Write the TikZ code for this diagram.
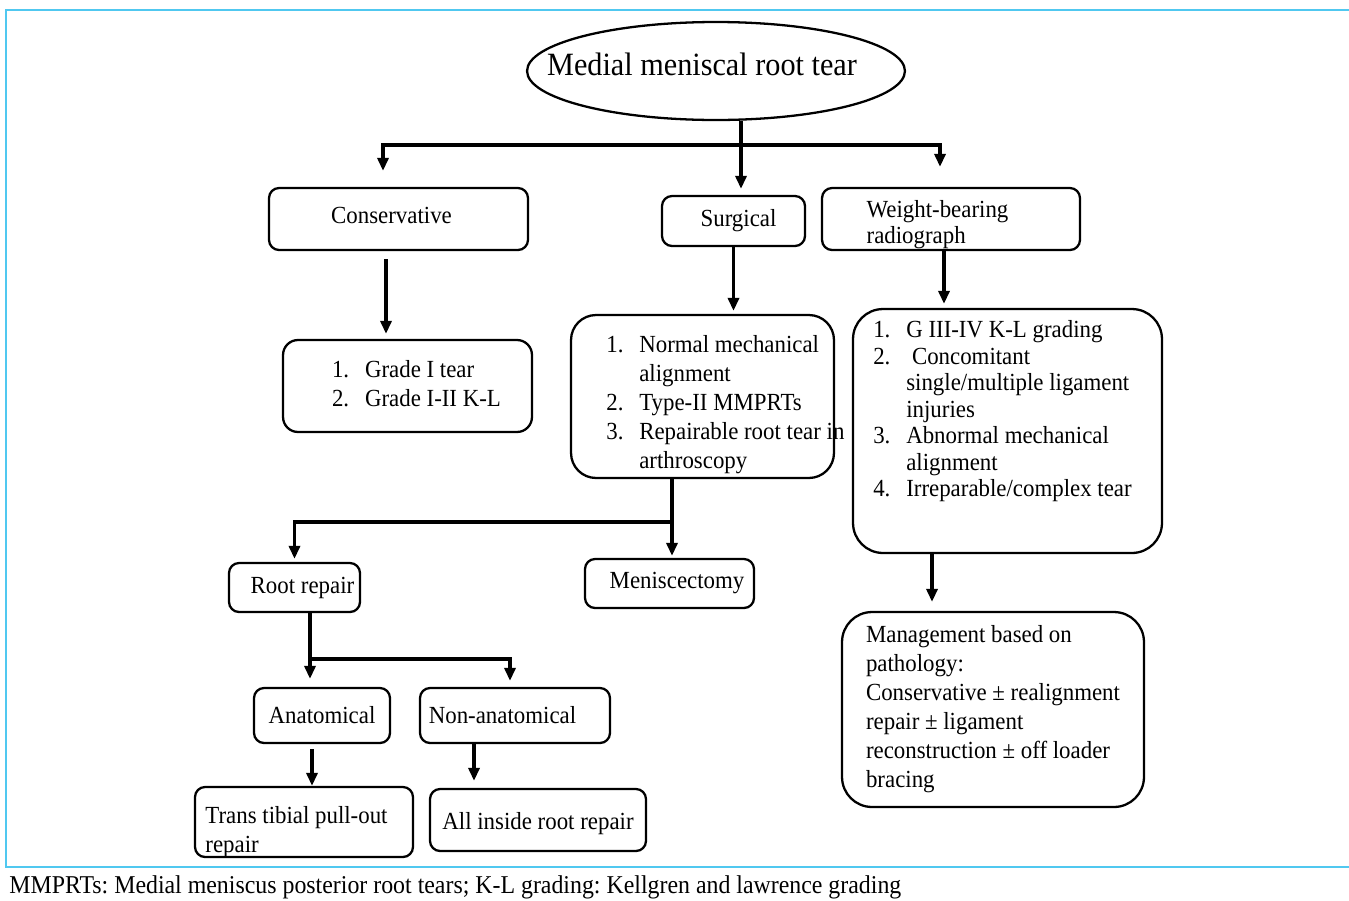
\documentclass[tikz,border=0pt]{standalone}
\usepackage{fontspec}
\setmainfont[FakeStretch=0.93]{Liberation Serif}
\usepackage{tikz}
\usetikzlibrary{shapes, arrows.meta, positioning}
\frenchspacing

\definecolor{framecyan}{RGB}{80,200,240}
\newcommand{\numlist}[1]{\begin{tabular}{@{}p{0.66cm}@{}l@{}}#1\end{tabular}}
\newcommand{\shiftdown}[2]{\raisebox{0pt}[\dimexpr\height+#1\relax][\dimexpr\depth-#1\relax]{#2}}

\begin{document}
\begin{tikzpicture}[x=0.02cm, y=-0.02cm,
            font=\fontsize{14}{16.5}\selectfont,
            box/.style={draw, rectangle, rounded corners=0.2cm, line width=1.3pt, inner sep=0pt},
            arr/.style={-{Triangle[length=0.26cm, width=0.22cm]}, line width=2pt}]
            \useasboundingbox (0,0) rectangle (1349,900);
            \draw[framecyan, line width=1.2pt] (1349,10) -- (6,10) -- (6,867) -- (1349,867);

            \node[draw, ellipse, line width=1.3pt, minimum width=7.56cm, minimum height=1.96cm, inner sep=0pt] (tear) at (716,71) {};
            \node[font=\fontsize{18.5}{22}\selectfont] (tearT) at (702,64) {Medial meniscal root tear};

            \node[box, minimum width=5.18cm, minimum height=1.24cm] (cons) at (398.5,219) {\shiftdown{-0.08cm}{Conservative}\hspace*{0.28cm}};
            \node[box, minimum width=2.86cm, minimum height=1.0cm] (surg) at (733.5,221) {\hspace*{0.2cm}Surgical};
            \node[box, minimum width=5.16cm, minimum height=1.24cm, font=\fontsize{14}{15}\selectfont] (wb) at (951,219)
                {\shiftdown{0.12cm}{\begin{tabular}{@{}l@{}}Weight-bearing\hspace*{0.54cm}\\radiograph\end{tabular}}};

            \node[box, rounded corners=0.3cm, minimum width=4.98cm, minimum height=1.84cm] (consL) at (407.5,386)
                {\hspace*{0.36cm}\numlist{1. & Grade I tear\\ 2. & Grade I-II K-L}};
            \node[box, rounded corners=0.5cm, minimum width=5.26cm, minimum height=3.26cm] (surgL) at (702.5,396.5)
                {\hspace*{0.56cm}\shiftdown{0.16cm}{\numlist{1. & Normal mechanical\\ & alignment\\ 2. & Type-II MMPRTs\\ 3. & Repairable root tear \rlap{in}\\ & arthroscopy}}};
            \node[box, rounded corners=0.6cm, minimum width=6.18cm, minimum height=4.88cm] (wbL) at (1007.5,431)
                {\renewcommand{\arraystretch}{0.914}\numlist{1. & G III-IV K-L grading\\ 2. & \ Concomitant\\ & single/multiple ligament\\ & injuries\\
                 3. & Abnormal mechanical\\ & alignment\\ 4. & Irreparable/complex tear\\[0.76cm]}\hspace*{0.2cm}};
            \node[box, rounded corners=0.6cm, minimum width=6.04cm, minimum height=3.9cm, align=left] (mgmt) at (993,709.5)
                {Management based on\\pathology:\\Conservative ± realignment\\repair ± ligament\\reconstruction ± off loader\\bracing};

            \node[box, minimum width=3.38cm, minimum height=0.98cm] (menis) at (669.5,583.5) {\hspace*{0.3cm}Meniscectomy};
            \node[box, minimum width=2.62cm, minimum height=0.98cm] (root) at (294.5,587.5) {\hspace*{0.32cm}Root repair};
            \node[box, minimum width=2.72cm, minimum height=1.1cm] (anat) at (322,715.5) {Anatomical};
            \node[box, minimum width=3.8cm, minimum height=1.1cm] (nonanat) at (515,715.5) {Non-anatomical\hspace*{0.5cm}};
            \node[box, minimum width=4.36cm, minimum height=1.4cm] (trans) at (304,822)
                {\shiftdown{0.2cm}{\begin{tabular}{@{}l@{}}Trans tibial pull-out\\repair\end{tabular}}\hspace*{0.3cm}};
            \node[box, minimum width=4.32cm, minimum height=1.24cm] (allin) at (538,820) {\shiftdown{0.08cm}{All inside root repair}};

            \node[anchor=west, inner sep=0pt, font=\fontsize{14.6}{17}\selectfont] (note) at (9,887)
                {MMPRTs: Medial meniscus posterior root tears; K-L grading: Kellgren and lawrence grading};

            \coordinate (bar) at (741,145);
            \coordinate (bar2) at (672,522);
            \coordinate (bar3) at (310,659);

            \draw[arr, shorten >=0.12cm] (tear.south -| bar) -- (surg.north -| bar);
            \draw[arr, shorten >=0.32cm] (bar) -| ([xshift=-0.31cm]cons.north);
            \draw[arr, shorten >=0.4cm] (bar) -| ([xshift=-0.22cm]wb.north);

            \draw[arr, shorten <=0.16cm, shorten >=0.1cm] ([xshift=-0.25cm]cons.south) -- ([xshift=-0.25cm]cons.south |- consL.north);
            \draw[arr, shorten >=0.06cm] (surg.south) -- (surg.south |- surgL.north);
            \draw[arr, shorten >=0.08cm] ([xshift=-0.14cm]wb.south) -- ([xshift=-0.14cm]wb.south |- wbL.north);
            \draw[arr, shorten >=0.18cm] ([xshift=-1.51cm]wbL.south) -- ([xshift=-1.51cm]wbL.south |- mgmt.north);

            \draw[arr, shorten >=0.04cm] (bar2 |- surgL.south) -- (bar2 |- menis.north);
            \draw[arr, shorten >=0.06cm] (bar2) -| (root.north);

            \draw[arr, shorten >=0.16cm] ([xshift=0.31cm]root.south) -- ([xshift=0.31cm]root.south |- anat.north);
            \draw[arr, shorten >=0.12cm] (bar3) -| ([xshift=-0.1cm]nonanat.north);
            \draw[arr, shorten <=0.1cm] ([xshift=-0.2cm]anat.south) -- ([xshift=-0.2cm]anat.south |- trans.north);
            \draw[arr, shorten >=0.14cm] ([xshift=-0.82cm]nonanat.south) -- ([xshift=-0.82cm]nonanat.south |- allin.north);
        \end{tikzpicture}
\end{document}
